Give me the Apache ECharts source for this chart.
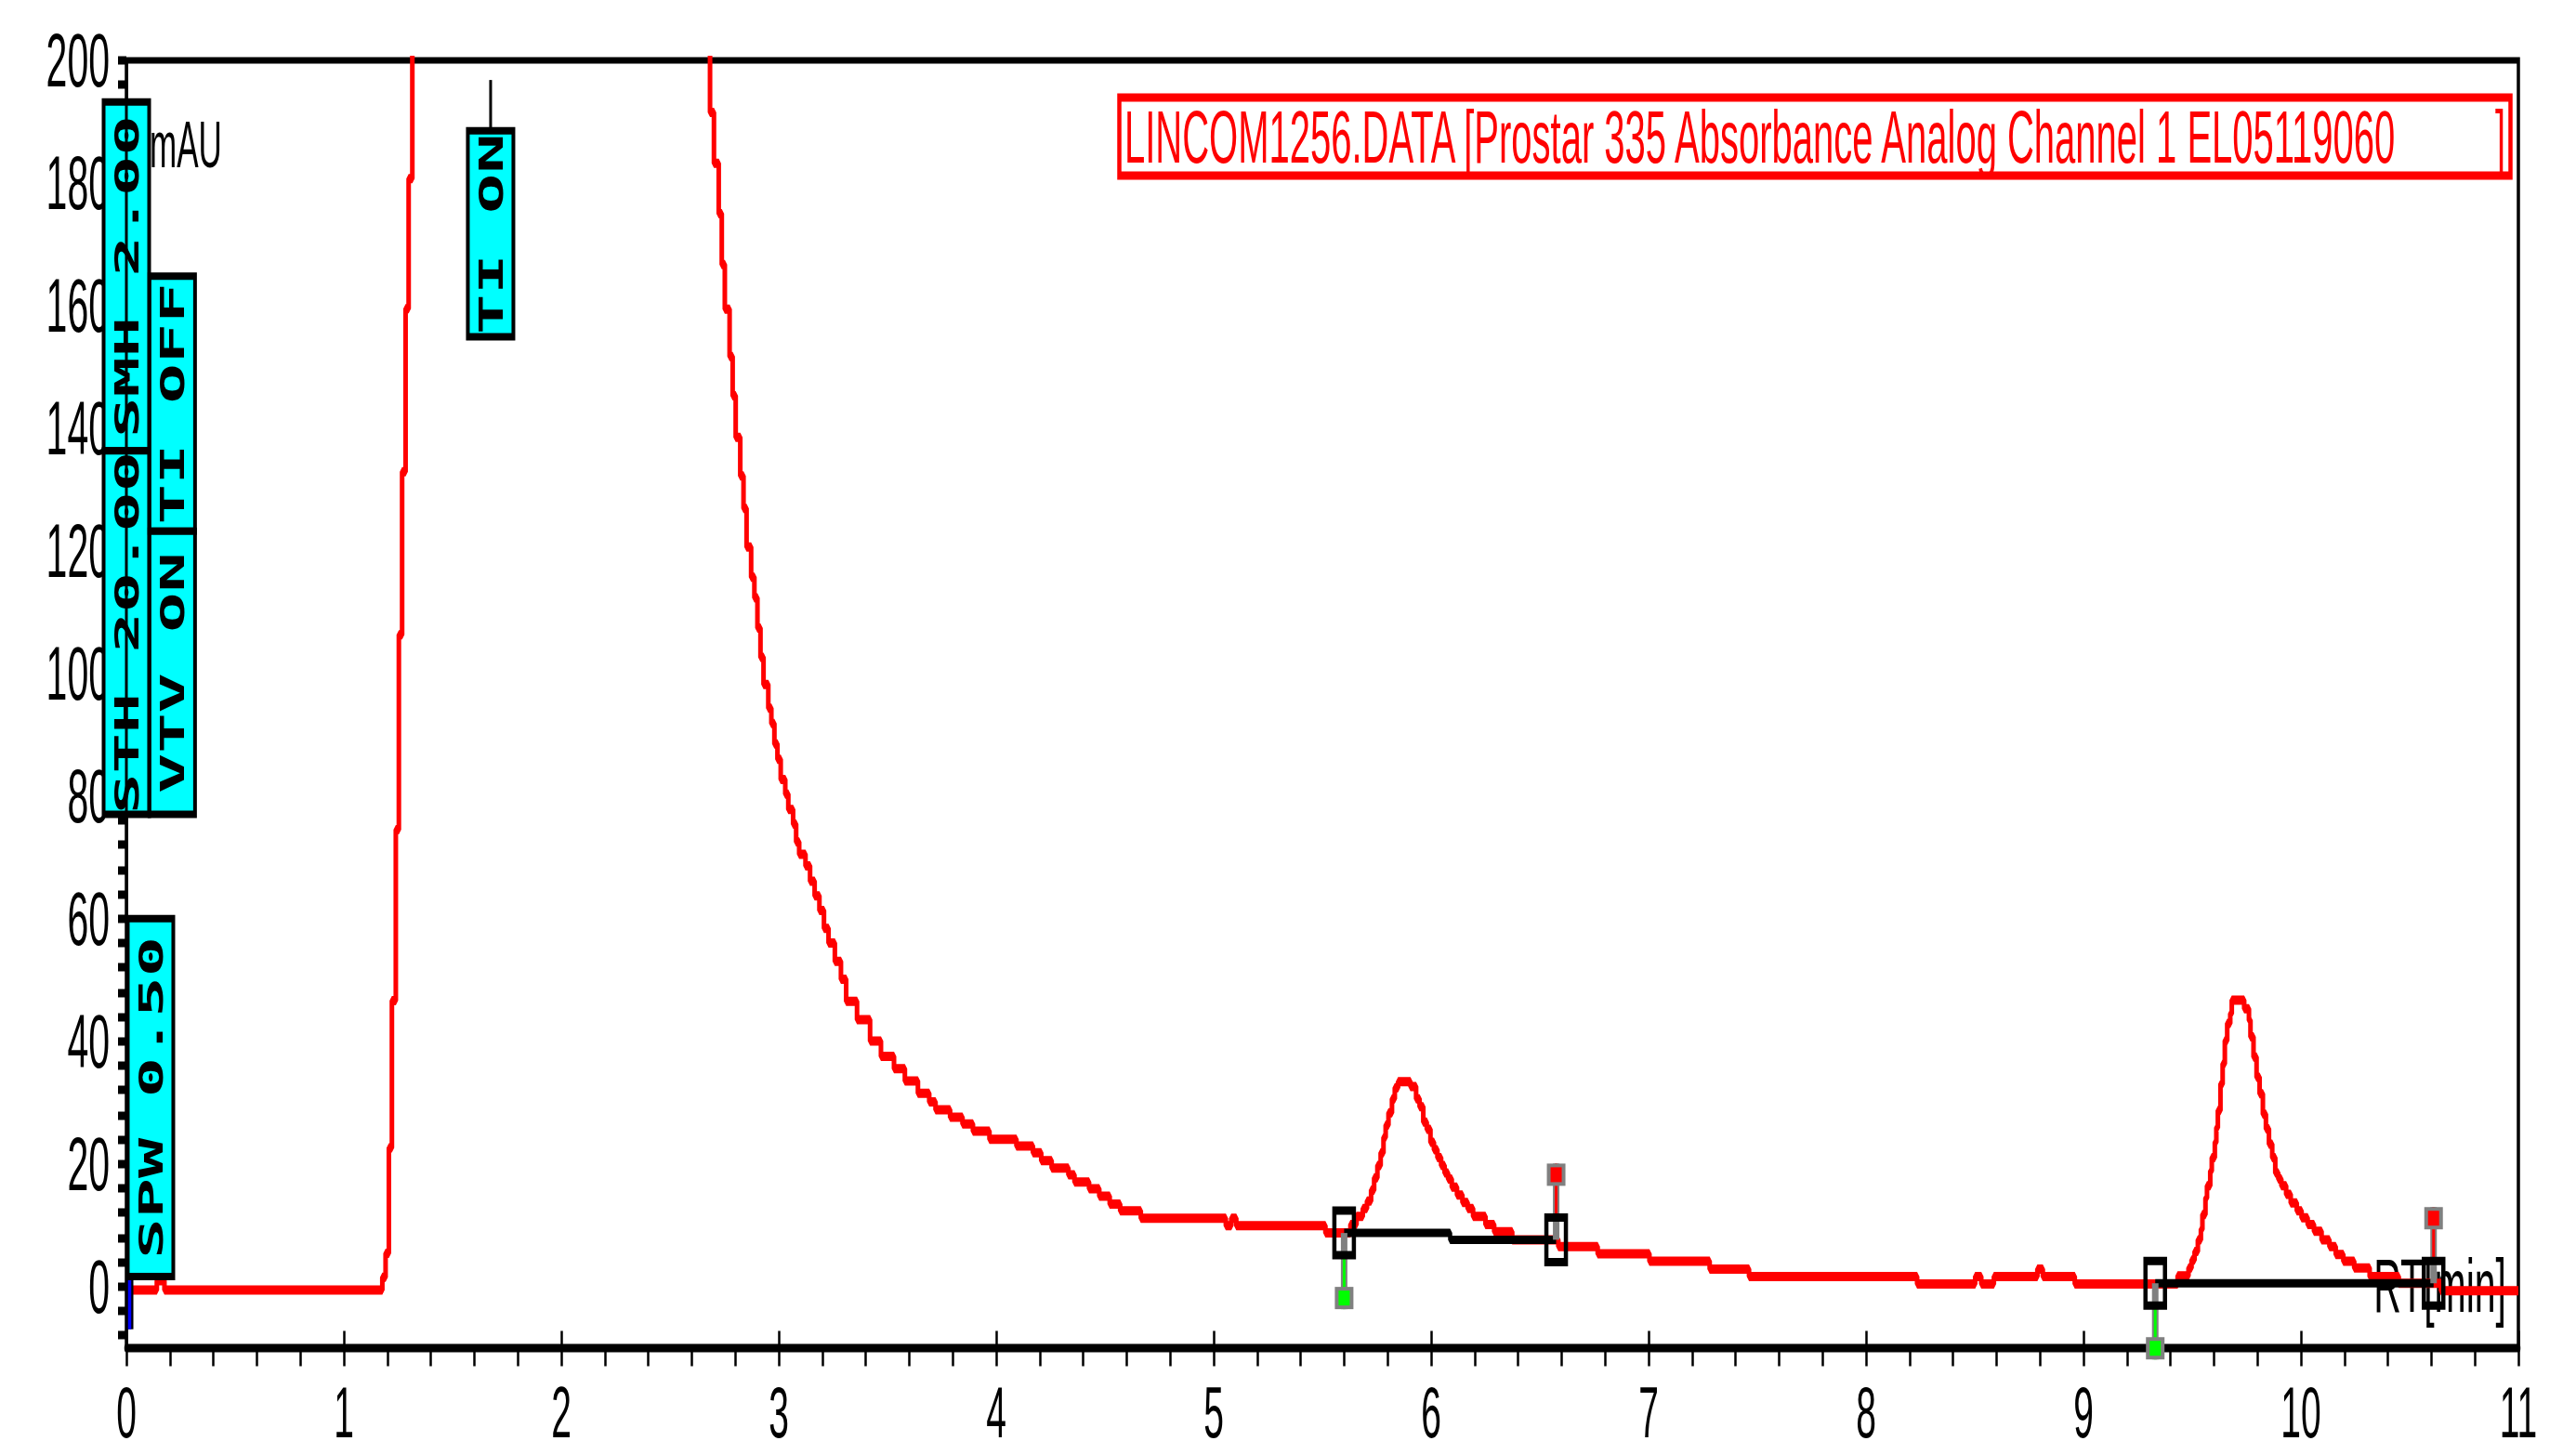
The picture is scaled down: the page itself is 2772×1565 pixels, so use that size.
<!DOCTYPE html>
<html>
<head>
<meta charset="utf-8">
<script src="https://cdn.jsdelivr.net/npm/echarts@6/dist/echarts.min.js"></script>
<style>
html { margin: 0; padding: 0; background: #fff; overflow: hidden; }
body { margin: 0; padding: 0; width: 2772px; height: 1565px; background: #fff; }
/* the original screenshot is stretched vertically, so the chart is drawn at half height and scaled */
#chart { width: 2772px; height: 782.5px; transform: scale(1, 2); transform-origin: 0 0; }
</style>
</head>
<body>
<div id="chart"></div>
<script>
// trace as [RT min, mAU] steps: each point holds its value until the next one
const traceStart = [
    [0.02, -0.6], [0.14, 0.9], [0.175, -0.6], [1.177, 1.5], [1.192, 5.4], [1.207, 22.6],
    [1.221, 46.6], [1.239, 74.5], [1.253, 106.3], [1.268, 132.9], [1.284, 159.5],
    [1.298, 180.7], [1.315, 230]
];
const solventTail = [
    [2.684, 191.5], [2.702, 183.2], [2.724, 175], [2.738, 166.7], [2.752, 159.4],
    [2.774, 151.7], [2.788, 145.3], [2.802, 138.5], [2.823, 132.2], [2.838, 126.9],
    [2.852, 120.6], [2.873, 115.7], [2.888, 112.3], [2.902, 107.4], [2.916, 102.6],
    [2.93, 98.2], [2.952, 94.3], [2.966, 91.8], [2.98, 88.5], [2.994, 86],
    [3.009, 82.7], [3.03, 80.3], [3.044, 77.8], [3.066, 75.4], [3.08, 72.5],
    [3.094, 70.5], [3.123, 68.6], [3.144, 66.1], [3.165, 63.7], [3.187, 61.3],
    [3.208, 58.4], [3.229, 56], [3.258, 53], [3.286, 50.1], [3.31, 46.5],
    [3.36, 43.5], [3.42, 40.0], [3.47, 37.5], [3.53, 35.5], [3.58, 33.5], [3.64, 31.5],
    [3.692, 30.1], [3.721, 28.8], [3.788, 27.6], [3.845, 26.5], [3.893, 25.3],
    [3.969, 24.0], [4.093, 22.9], [4.169, 21.8], [4.207, 20.5], [4.255, 19.3],
    [4.332, 18.2], [4.36, 17.0], [4.427, 15.9], [4.474, 14.7], [4.522, 13.4],
    [4.57, 12.3], [4.665, 11.1], [5.056, 9.9], [5.081, 11.1], [5.104, 9.9], [5.514, 8.7]
];
const peak1 = [
    [5.629, 10.1], [5.657, 11.4], [5.686, 12.7], [5.705, 13.9], [5.724, 15.7],
    [5.738, 17.7], [5.753, 19.7], [5.768, 21.8], [5.781, 24.3], [5.791, 26.3],
    [5.804, 28.3], [5.82, 30.6], [5.833, 32.4], [5.848, 33.4], [5.905, 32.6],
    [5.931, 30.6], [5.947, 29.3], [5.964, 26.8], [5.98, 25.6], [5.997, 23.5],
    [6.013, 22.3], [6.029, 21.0], [6.046, 19.7], [6.062, 18.5], [6.078, 17.5],
    [6.095, 16.2], [6.119, 14.9], [6.144, 13.7], [6.168, 12.7], [6.193, 11.4],
    [6.25, 10.1], [6.29, 8.9], [6.373, 7.6]
];
const midBaseline = [
    [6.585, 6.5], [6.766, 5.3], [7.004, 4.1], [7.281, 2.8], [7.462, 1.6], [8.235, 0.4],
    [8.502, 1.6], [8.53, 0.4], [8.588, 1.6], [8.788, 2.8], [8.813, 1.6], [8.96, 0.4]
];
const peak2 = [
    [9.433, 1.7], [9.483, 3.0], [9.497, 4.3], [9.511, 5.7], [9.526, 7.6], [9.54, 9.3],
    [9.547, 11.7], [9.561, 14.4], [9.568, 16.4], [9.583, 18.8], [9.59, 21.0],
    [9.604, 23.5], [9.611, 25.9], [9.618, 28.7], [9.63, 33.0], [9.64, 36.3],
    [9.65, 40.1], [9.661, 42.9], [9.675, 44.5], [9.682, 46.7], [9.739, 45.3],
    [9.761, 43.4], [9.768, 40.7], [9.782, 37.4], [9.796, 34.1], [9.81, 31.4],
    [9.825, 28.1], [9.839, 25.7], [9.853, 23.2], [9.868, 21.0], [9.882, 18.5],
    [9.896, 17.5], [9.91, 16.4], [9.932, 15.0], [9.953, 13.6], [9.981, 12.3],
    [10.003, 11.2], [10.031, 10.1], [10.06, 9.0], [10.095, 7.6], [10.131, 6.5],
    [10.16, 5.2], [10.195, 4.1], [10.245, 3.0], [10.316, 1.6], [10.45, 0.5],
    [10.644, -0.7], [11.0, -0.7]
];

// integration marks
const peakStarts = [[5.60, 8.7], [9.33, 0.5]];
const peakEnds = [[6.575, 7.6], [10.61, 0.5]];
const baseline1 = [[5.60, 8.7], [6.575, 7.6]];
const baseline2 = [[9.33, 0.5], [10.61, 0.5]];
const injection = [[0.015, 1.2], [0.015, -7]];

// timed events: [RT min, mAU bottom, mAU top, text]
const eventBoxes = [
    [0, 136.3, 193.2, 'SMH 2.00'],
    [0, 77.0, 136.3, 'STH 20.00'],
    [0.211, 123.2, 164.8, 'TI OFF'],
    [0.211, 77.0, 123.2, 'VTV ON'],
    [0.111, 1.6, 60.0, 'SPW 0.50'],
    [1.675, 154.9, 188.5, 'TI ON']
];
const eventFlags = [[0, 77.0, 193.2], [1.675, 188.5, 196.8]];

const yLabelValues = [0, 20, 40, 60, 80, 100, 120, 140, 160, 180, 200];
const yTickValues = [];
for (let v = -8; v <= 200; v += 4) yTickValues.push(v);

const titleText = 'LINCOM1256.DATA [Prostar 335 Absorbance Analog Channel 1 EL05119060';

const trace = traceStart.concat(solventTail, peak1, midBaseline, peak2);
const FONT = '"Liberation Sans", Arial, sans-serif';

function markRenderer(list, down) {
    return function (params, api) {
        const m = list[params.dataIndex];
        const c = api.coord(m);
        const dir = down ? 1 : -1;
        const end = c[1] + dir * 41;
        const core = down ? '#00ff00' : '#ff0000';
        const capY = down ? end - 12 : end;
        return {
            type: 'group',
            children: [
                { type: 'line', shape: { x1: c[0], y1: c[1], x2: c[0], y2: end }, style: { stroke: '#808080', lineWidth: 7 } },
                { type: 'line', shape: { x1: c[0], y1: c[1] + dir * 13, x2: c[0], y2: end }, style: { stroke: core, lineWidth: 3 } },
                { type: 'rect', shape: { x: c[0] - 10, y: capY, width: 20, height: 12 }, style: { fill: '#808080' } },
                { type: 'rect', shape: { x: c[0] - 6, y: capY + 2, width: 12, height: 8 }, style: { fill: core } },
                { type: 'rect', shape: { x: c[0] - 10.5, y: c[1] - 12, width: 21, height: 24 }, style: { fill: 'none', stroke: '#000', lineWidth: 4.5 } }
            ]
        };
    };
}

function renderEventBox(params, api) {
    const e = eventBoxes[params.dataIndex];
    const bottom = api.coord([e[0], e[1]]);
    const top = api.coord([e[0], e[2]]);
    const cx = bottom[0];
    return {
        type: 'group',
        children: [
            {
                type: 'rect',
                shape: { x: cx - 24.5, y: top[1], width: 49, height: bottom[1] - top[1] },
                style: { fill: '#00ffff', stroke: '#000', lineWidth: 4 }
            },
            {
                type: 'text',
                x: cx, y: (top[1] + bottom[1]) / 2,
                rotation: Math.PI / 2,
                style: {
                    text: e[3], fill: '#000',
                    font: 'bold 36px "DejaVu Sans Mono", monospace',
                    align: 'center', verticalAlign: 'middle'
                }
            }
        ]
    };
}

function renderFlag(params, api) {
    const f = eventFlags[params.dataIndex];
    const a = api.coord([f[0], f[1]]);
    const b = api.coord([f[0], f[2]]);
    return { type: 'line', shape: { x1: a[0], y1: a[1], x2: b[0], y2: b[1] }, style: { stroke: '#000', lineWidth: 3 } };
}

const chart = echarts.init(document.getElementById('chart'), null, { renderer: 'svg' });

chart.setOption({
    animation: false,
    backgroundColor: '#fff',
    title: {
        text: '{m|' + titleText + '}{b|]}',
        left: 1204,
        top: 56,
        padding: [1, 6, 1, 6],
        borderColor: '#ff0000',
        borderWidth: 4.5,
        textStyle: {
            fontSize: 40, fontFamily: FONT, fontWeight: 'normal', color: '#ff0000', lineHeight: 33,
            rich: {
                m: { width: 1475, fontSize: 40, fontFamily: FONT, color: '#ff0000', lineHeight: 33 },
                b: { fontSize: 40, fontFamily: FONT, color: '#ff0000', lineHeight: 33 }
            }
        }
    },
    grid: {
        left: 136, right: 62, top: 32.5, bottom: 57.75,
        show: true, borderColor: '#000', borderWidth: 3.5
    },
    xAxis: [
        {
            type: 'value', min: 0, max: 11, interval: 1,
            name: 'RT[min]', nameLocation: 'end', nameGap: -13,
            nameTextStyle: {
                fontSize: 41, fontFamily: FONT, color: '#000',
                align: 'right', verticalAlign: 'bottom', padding: [0, 0, 13, 0]
            },
            axisLine: { onZero: false, lineStyle: { color: '#000', width: 4.5 } },
            axisTick: { length: 10, lineStyle: { color: '#000', width: 2.5 } },
            minorTick: { show: true, splitNumber: 5, length: 10, lineStyle: { color: '#000', width: 2.5 } },
            axisLabel: { fontSize: 39, lineHeight: 30, fontFamily: FONT, color: '#000', margin: 19.5 },
            splitLine: { show: false }
        },
        {
            type: 'value', min: 0, max: 11, interval: 1, position: 'bottom',
            axisLine: { show: false, onZero: false },
            axisTick: { inside: true, length: 9, lineStyle: { color: '#000', width: 2.5 } },
            axisLabel: { show: false },
            splitLine: { show: false }
        }
    ],
    yAxis: {
        type: 'value', min: -10, max: 200,
        name: 'mAU', nameLocation: 'end', nameGap: -28,
        nameTextStyle: {
            fontSize: 35, fontFamily: FONT, color: '#000',
            align: 'left', verticalAlign: 'top', padding: [0, 0, 0, 25]
        },
        axisLine: { show: true, lineStyle: { color: '#000', width: 3 } },
        axisTick: { show: true, customValues: yTickValues, length: 9, lineStyle: { color: '#000', width: 4.5 } },
        axisLabel: { customValues: yLabelValues, fontSize: 41, fontFamily: FONT, color: '#000', margin: 18 },
        splitLine: { show: false }
    },
    series: [
        {
            type: 'line', data: trace, step: 'end', symbol: 'none', z: 2,
            lineStyle: { color: '#ff0000', width: 5 }
        },
        {
            type: 'line', data: baseline1, step: 'middle', symbol: 'none', z: 3,
            lineStyle: { color: '#000', width: 4.5 }
        },
        {
            type: 'line', data: baseline2, step: 'middle', symbol: 'none', z: 3,
            lineStyle: { color: '#000', width: 4.5 }
        },
        {
            type: 'line', data: injection, symbol: 'none', z: 3, clip: false,
            lineStyle: { color: '#000', width: 8 }
        },
        {
            type: 'line', data: injection, symbol: 'none', z: 3, clip: false,
            lineStyle: { color: '#0000ff', width: 3.5 }
        },
        { type: 'custom', data: peakStarts, renderItem: markRenderer(peakStarts, true), z: 4 },
        { type: 'custom', data: peakEnds, renderItem: markRenderer(peakEnds, false), z: 4 },
        {
            type: 'custom', z: 5,
            data: eventBoxes.map(function (e) { return [e[0], e[1], e[2]]; }),
            renderItem: renderEventBox
        },
        {
            type: 'custom', z: 6,
            data: eventFlags,
            renderItem: renderFlag
        }
    ]
});
</script>
</body>
</html>
